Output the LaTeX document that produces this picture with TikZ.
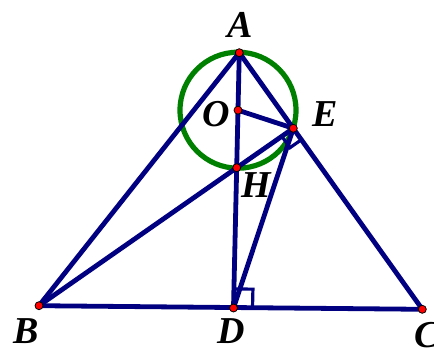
\documentclass[tikz,border=0pt]{standalone}
\usepackage{fontspec}
\setmainfont{Liberation Serif}
\usetikzlibrary{calc}
\definecolor{navy}{RGB}{0,0,128}
\definecolor{cgreen}{RGB}{0,128,0}
\definecolor{pred}{RGB}{255,0,0}
\tikzset{
  seg/.style={draw=navy, line width=4.8pt, line cap=round},
  rmark/.style={draw=navy, line width=3.2pt},
  circ/.style={draw=cgreen, line width=5.2pt},
  pt/.style={circle, fill=pred, draw=black, line width=0.8pt, inner sep=0pt, minimum size=8pt},
  lab/.style={inner sep=0pt, font=\fontsize{38}{42}\selectfont\bfseries\itshape},
}
\begin{document}
\begin{tikzpicture}[x=1pt,y=-1pt]
\useasboundingbox (0,0) rectangle (434,350);
\coordinate (A) at (239.3,52.7);
\coordinate (B) at (39,305.7);
\coordinate (C) at (422.3,309.3);
\coordinate (D) at (233.5,308);
\coordinate (E) at (293.3,128.3);
\coordinate (H) at (236.7,167.7);
\coordinate (O) at (238,110.2);
% circle
\draw[circ] (O) circle (58);
% right angle marks
\draw[rmark] ($(D)!19pt!(A)$) -- ($(D)!19pt!(A)+(D)!19pt!(C)-(D)$) -- ($(D)!19pt!(C)$);
\draw[rmark] ($(E)!14pt!(B)$) -- ($(E)!14pt!(B)+(E)!14pt!(C)-(E)$) -- ($(E)!14pt!(C)$);
% segments
\draw[seg] (A) -- (B);
\draw[seg] (A) -- (C);
\draw[seg] (B) -- (C);
\draw[seg] (A) -- (D);
\draw[seg] (B) -- (E);
\draw[seg] (O) -- (E);
\draw[seg] (D) -- (E);
% points
\foreach \p in {A,B,C,D,E,H,O} \node[pt] (p\p) at (\p) {};
% labels
\node[lab] (lA) at (240,24.7) {A};
\node[lab] (lO) at (216.7,113.7) {O};
\node[lab] (lE) at (325.5,114) {E};
\node[lab] (lH) at (256.3,185.3) {H};
\node[lab] (lB) at (26,330.8) {B};
\node[lab] (lD) at (231.7,331.3) {D};
\node[lab] (lC) at (427,335) {C};
\end{tikzpicture}
\end{document}
